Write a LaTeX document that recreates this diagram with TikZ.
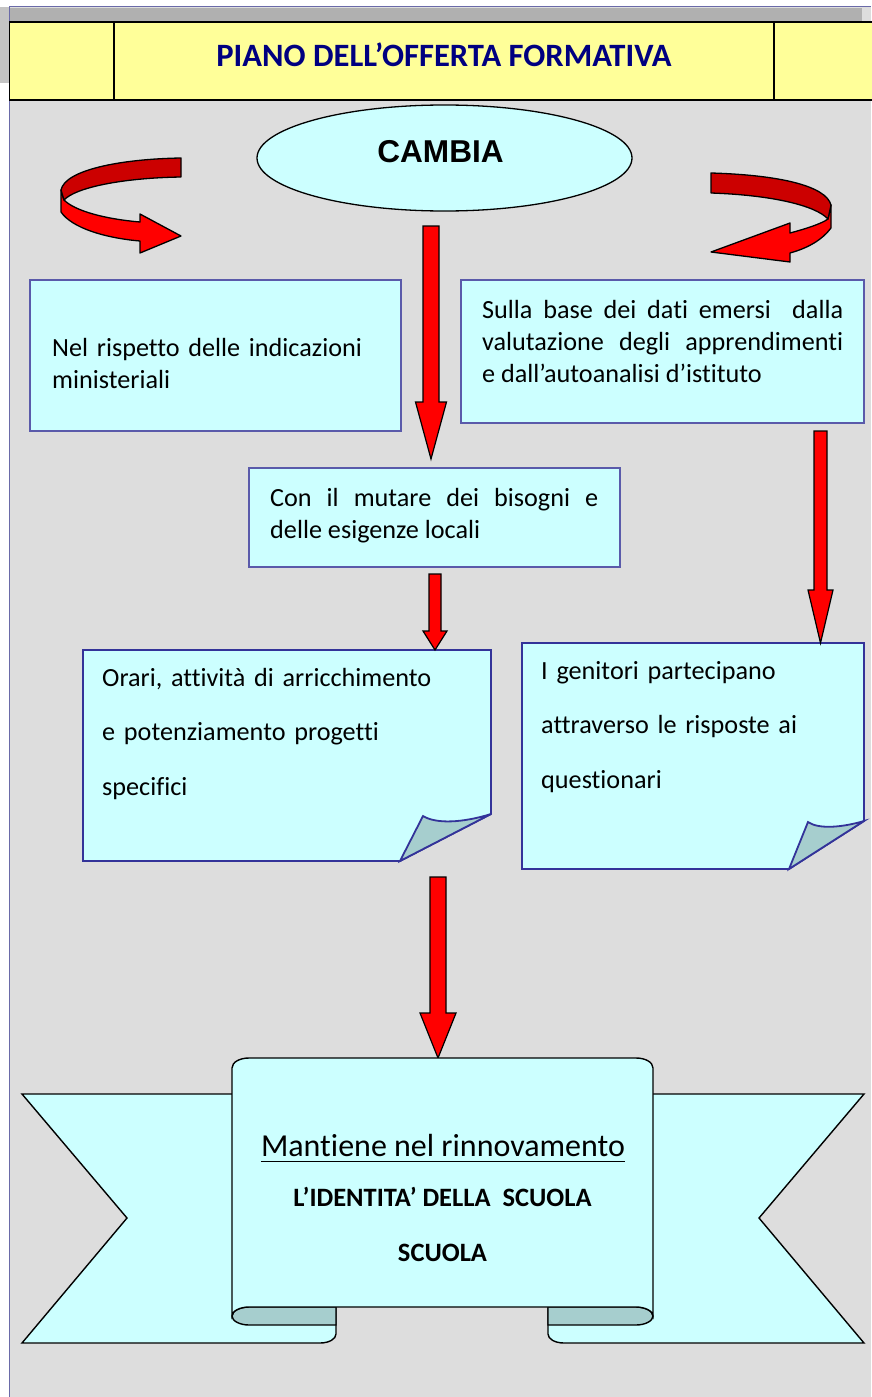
\documentclass[tikz,border=0pt]{standalone}
\usepackage{fontspec}
\setmainfont{Carlito}[Ligatures=NoCommon]
\newfontfamily\arialfont{Liberation Sans}
\usetikzlibrary{shapes.geometric,calc}
\definecolor{bggray}{HTML}{DDDDDD}
\definecolor{sidegray}{HTML}{C4C4C4}
\definecolor{bargray}{HTML}{B0B0B0}
\definecolor{framecol}{HTML}{6A6AA8}
\definecolor{hdryellow}{HTML}{FFFF99}
\definecolor{titleblue}{HTML}{000080}
\definecolor{cyanfill}{HTML}{CCFFFF}
\definecolor{foldfill}{HTML}{A6CECE}
\definecolor{boxline}{HTML}{5A5AAA}
\definecolor{docline}{HTML}{333399}
\definecolor{darkred}{HTML}{CC0000}
\tikzset{
  txtbox/.style={draw=boxline, line width=1.1pt, fill=cyanfill, inner sep=0pt},
  docbox/.style={draw=docline, line width=1.8pt, fill=cyanfill, line join=miter},
  bodytext/.style={inner sep=0pt, font=\fontsize{26.2}{32}\selectfont},
  doctext/.style={inner sep=0pt, font=\fontsize{26.2}{54.5}\selectfont, align=left},
  ribbon/.style={draw=black, line width=1.4pt, fill=cyanfill},
  ribbonfold/.style={draw=black, line width=1.4pt, fill=foldfill},
  curlfront/.style={draw=black, line width=1.3pt, fill=red, line join=round},
  curlback/.style={draw=black, line width=1.3pt, fill=darkred, line join=round},
  redarrow/.style n args={3}{draw=black, fill=red, line width=1.2pt, line join=miter,
    to path={let \p1=(\tikztostart), \p2=(\tikztotarget) in
      (\x1-#1,\y1) -- (\x1+#1,\y1) -- (\x1+#1,\y2+#3) -- (\x1+#2,\y2+#3) -- (\x2,\y2)
      -- (\x1-#2,\y2+#3) -- (\x1-#1,\y2+#3) -- cycle}}
}
\begin{document}
\begin{tikzpicture}[x=1pt,y=-1pt]
\useasboundingbox (0,0) rectangle (871,1397);
\fill[white] (0,0) rectangle (871,1397);
% page background
\fill[sidegray] (0,7) rectangle (9,83);
\fill[bggray] (9,7) rectangle (871,1397);
\draw[framecol, line width=0.9pt] (9.5,1397) -- (9.5,6.5) -- (871,6.5);
\fill[bargray] (10,8) rectangle (862,22);
% header band
\draw[line width=1.6pt, fill=hdryellow] (9.5,22) rectangle (874,100);
\draw[line width=2pt] (114,22) -- (114,100);
\draw[line width=2pt] (774,22) -- (774,100);
\node[inner sep=0pt, text=titleblue, font=\bfseries\fontsize{32.6}{38}\selectfont] (title) at (444,55) {PIANO DELL’OFFERTA FORMATIVA};
% CAMBIA
\node[ellipse, draw=black, line width=1.3pt, fill=cyanfill, minimum width=375pt, minimum height=106pt, inner sep=0pt] (cambia) at (444.5,158) {};
\node[inner sep=0pt, font=\arialfont\bfseries\fontsize{31.6}{36}\selectfont] (cambiatxt) at (440.5,152) {CAMBIA};
% curved arrows
\draw[curlfront] (61,190) -- (61,212) .. controls (72,228) and (105,238) .. (140,241) -- (140,253) -- (181,236) -- (140,214) -- (140,222) .. controls (105,219) and (75,211) .. (64,200) -- cycle;
\draw[curlback] (181,158) -- (181,177) .. controls (120,178) and (75,188) .. (64,200) -- (61,190) .. controls (65,170) and (120,159) .. (181,158) -- cycle;
\draw[curlfront] (831,205) -- (831,228) .. controls (822,240) and (808,248) .. (790,253) -- (790,262) -- (711,252) -- (790,223) -- (790,233) .. controls (805,229) and (821,224) .. (828,219) -- cycle;
\draw[curlback] (711,173) -- (711,193) .. controls (770,195) and (815,205) .. (828,219) -- (831,205) .. controls (826,186) and (780,175) .. (711,173) -- cycle;
% text boxes
\node[txtbox, minimum width=371pt, minimum height=151pt] (b1) at (215.5,355.5) {};
\node[bodytext, text width=330pt, align=left, anchor=base west] (t1) at (52,356) {Nel rispetto delle indicazioni\\ministeriali};
\node[txtbox, minimum width=403pt, minimum height=143pt] (b2) at (662.5,351.5) {};
\node[bodytext, text width=361pt, align=justify, anchor=base west] (t2) at (482,318) {Sulla base dei dati emersi\ \ dalla\linebreak valutazione degli apprendimenti\linebreak e dall’autoanalisi d’istituto};
\node[txtbox, minimum width=371pt, minimum height=99pt] (b3) at (434.5,517.5) {};
\node[bodytext, text width=328pt, align=justify, anchor=base west] (t3) at (270,506) {Con il mutare dei bisogni e\linebreak delle esigenze locali};
% document shapes
\draw[docbox] (83,650) -- (491,650) -- (491,814) -- (400,861) -- (83,861) -- cycle;
\draw[docbox, fill=foldfill] (400,861) -- (423,816) .. controls (436,824) and (462,823) .. (491,814) -- cycle;
\node[doctext, text width=380pt, anchor=base west] (t4) at (102,686) {Orari, attività di arricchimento\\e potenziamento progetti\\specifici};
\draw[docbox] (522,643) -- (864,643) -- (864,821) -- (789,869) -- (522,869) -- cycle;
\draw[docbox, fill=foldfill] (789,869) -- (808,822) .. controls (818,829) and (840,828) .. (864,821) -- cycle;
\node[doctext, text width=320pt, anchor=base west] (t5) at (541,679) {I genitori partecipano\\attraverso le risposte ai\\questionari};
% straight arrows
\coordinate (a1s) at (431,226); \coordinate (a1e) at (431,459);
\coordinate (a2s) at (820.5,431); \coordinate (a2e) at (820.5,643);
\coordinate (a3s) at (435,574); \coordinate (a3e) at (435,650);
\coordinate (a4s) at (438,877); \coordinate (a4e) at (438,1058);
\draw[redarrow={8}{15.5}{57}] (a1s) to (a1e);
\draw[redarrow={6.5}{12.5}{53}] (a2s) to (a2e);
\draw[redarrow={6}{12}{19}] (a3s) to (a3e);
\draw[redarrow={8}{18}{45}] (a4s) to (a4e);
% banner
\draw[ribbon] (22,1094) -- (336,1094) -- (336,1334) .. controls (336,1339) and (329,1343) .. (320,1343) -- (22,1343) -- (127,1218) -- cycle;
\draw[ribbon] (864,1094) -- (548,1094) -- (548,1334) .. controls (548,1339) and (555,1343) .. (564,1343) -- (864,1343) -- (759,1218) -- cycle;
\draw[ribbonfold] (232,1316) .. controls (232,1321) and (240,1325) .. (249,1325) -- (336,1325) -- (336,1307) -- (249,1307) .. controls (240,1307) and (232,1311) .. (232,1316) -- cycle;
\draw[ribbonfold] (653,1316) .. controls (653,1321) and (645,1325) .. (636,1325) -- (548,1325) -- (548,1307) -- (636,1307) .. controls (645,1307) and (653,1311) .. (653,1316) -- cycle;
\draw[ribbon] (232,1068) .. controls (232,1062) and (240,1058) .. (249,1058) -- (636,1058) .. controls (645,1058) and (653,1062) .. (653,1068) -- (653,1316) .. controls (653,1311) and (645,1307) .. (636,1307) -- (249,1307) .. controls (240,1307) and (232,1311) .. (232,1316) -- cycle;
\node[inner sep=0pt, anchor=base, font=\fontsize{32}{38}\selectfont] (m1) at (443,1156) {Mantiene nel rinnovamento};
\draw[line width=1.8pt] ([yshift=-5.5pt]m1.base west) -- ([yshift=-5.5pt]m1.base east);
\node[inner sep=0pt, anchor=base, font=\bfseries\fontsize{26.5}{32}\selectfont] (m2) at (442.5,1206) {L’IDENTITA’ DELLA\ \ SCUOLA};
\node[inner sep=0pt, anchor=base, font=\bfseries\fontsize{26.5}{32}\selectfont] (m3) at (442.5,1261) {SCUOLA};
\end{tikzpicture}
\end{document}
